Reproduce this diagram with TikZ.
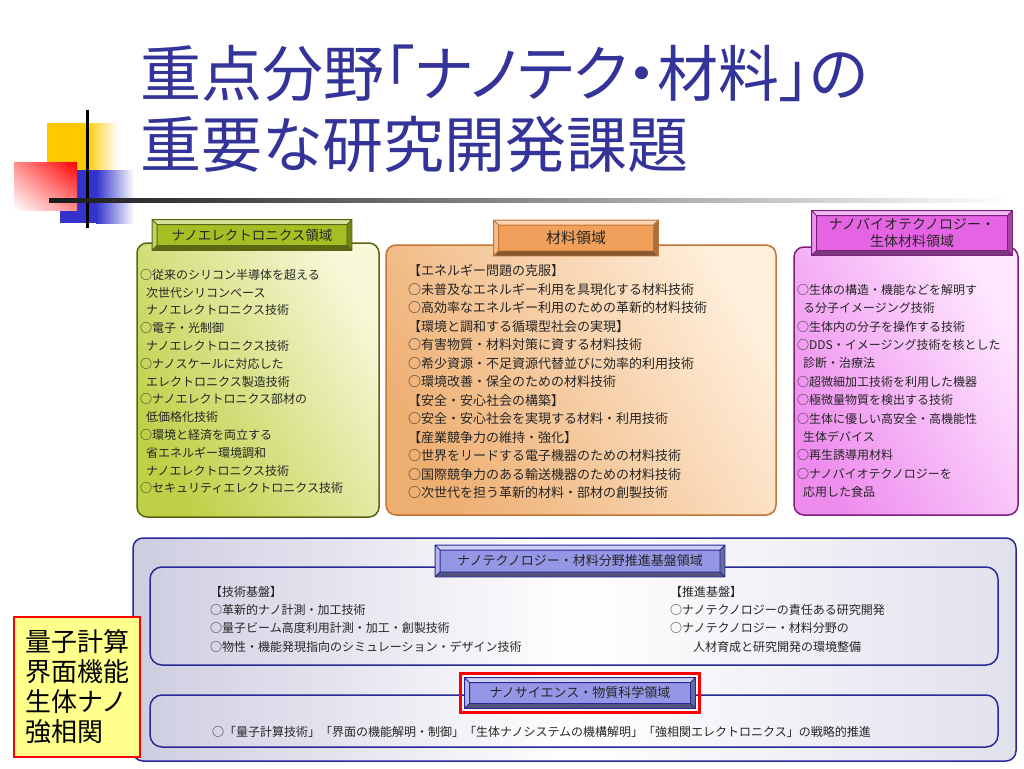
\documentclass[tikz,border=0pt]{standalone}
\usepackage{fontspec}
\setmainfont{Noto Sans CJK JP}
\newfontfamily\titlefont[RawFeature=+palt]{Noto Sans CJK JP}
\usepackage{tikz}
\usetikzlibrary{calc,shadings}

\definecolor{titleblue}{RGB}{51,51,153}
\definecolor{grnline}{RGB}{90,100,20}
\definecolor{grnfill}{RGB}{190,208,70}
\definecolor{grnlight}{RGB}{246,248,215}
\definecolor{grntab}{RGB}{165,190,35}
\definecolor{orgline}{RGB}{195,115,50}
\definecolor{orgfill}{RGB}{238,175,115}
\definecolor{orglight}{RGB}{255,238,218}
\definecolor{orgtab}{RGB}{240,160,90}
\definecolor{pnkline}{RGB}{125,30,125}
\definecolor{pnkfill}{RGB}{238,140,238}
\definecolor{pnklight}{RGB}{255,232,255}
\definecolor{pnktab}{RGB}{228,100,228}
\definecolor{bluline}{RGB}{40,40,150}
\definecolor{blufill}{RGB}{205,205,225}
\definecolor{blutab}{RGB}{150,150,230}
\definecolor{deco-y}{RGB}{255,200,0}
\definecolor{deco-b}{RGB}{51,51,204}
\definecolor{notey}{RGB}{255,255,140}

% bevelled frame round a tab node: #1 node, #2 face colour, #3 line colour
\newcommand\tabbevel[3]{%
  \fill[#2!45!white] (#1.north west) -- (#1.north east) -- ([shift={(-5,5)}]#1.north east) -- ([shift={(5,5)}]#1.north west) -- cycle;
  \fill[#2!70!white] (#1.north west) -- ([shift={(5,5)}]#1.north west) -- ([shift={(5,-5)}]#1.south west) -- (#1.south west) -- cycle;
  \fill[#2!70!black] (#1.north east) -- ([shift={(-5,5)}]#1.north east) -- ([shift={(-5,-5)}]#1.south east) -- (#1.south east) -- cycle;
  \fill[#2!55!black] (#1.south west) -- ([shift={(5,-5)}]#1.south west) -- ([shift={(-5,-5)}]#1.south east) -- (#1.south east) -- cycle;
  \draw[#3, line width=0.8pt] (#1.north west) rectangle (#1.south east)
    ([shift={(5,5)}]#1.north west) rectangle ([shift={(-5,-5)}]#1.south east)
    (#1.north west) -- ++(5,5) (#1.north east) -- ++(-5,5)
    (#1.south west) -- ++(5,-5) (#1.south east) -- ++(-5,-5);
}

\begin{document}
\begin{tikzpicture}[x=1pt,y=-1pt,
  panel/.style={line width=1.5pt, rounded corners=10pt},
  tabbox/.style={draw, line width=0.8pt, inner sep=0pt, align=center,
    font=\fontsize{13}{16}\selectfont, text=black!85},
  items/.style={anchor=north west, inner sep=0pt, align=left,
    font=\fontsize{12}{18.3}\selectfont, text=black!85}]

\useasboundingbox (0,0) rectangle (1024,768);

% Corner decoration
\fill[deco-y] (47,123) rectangle (86,172);
\shade[left color=deco-y, right color=white] (86,123) rectangle (118,172);
\fill[deco-b] (60,170) rectangle (96,223);
\shade[left color=deco-b, right color=white] (96,170) rectangle (134,223);
\shade[upper left=red!45!white, upper right=red, lower left=white, lower right=red!45!white] (14,162) rectangle (77,210);
\draw[line width=3pt] (87,110) -- (87,228);
\shade[left color=black!90, right color=white, middle color=black!45] (49,198) rectangle (1010,202);

% Title
\node[anchor=west, inner sep=0pt, text=titleblue, font=\titlefont\fontsize{61}{61}\selectfont] (title1) at (140,73) {重点分野「ナノテク・材料」の};
\node[anchor=west, inner sep=0pt, text=titleblue, font=\titlefont\fontsize{61}{61}\selectfont] (title2) at (140,144) {重要な研究開発課題};

% Upper panels
\draw[panel, draw=grnline, left color=grnfill, right color=grnlight, shading angle=120] (137,243) rectangle (379,517);
\draw[panel, draw=orgline, left color=orgfill, right color=orglight, shading angle=120] (386,245) rectangle (776,515);
\draw[panel, draw=pnkline, left color=pnkfill, right color=pnklight, shading angle=120] (794,247) rectangle (1018,515);

\node[tabbox, fill=grntab, draw=grnline, minimum width=199pt, minimum height=30pt,
  font=\fontsize{13.5}{16}\selectfont] (electab) at (252,235) {ナノエレクトロニクス領域};
\tabbevel{electab}{grntab}{grnline}
\node[tabbox, fill=orgtab, draw=orgline, minimum width=164pt, minimum height=35pt,
  font=\fontsize{15}{18}\selectfont] (mattab) at (576,238) {材料領域};
\tabbevel{mattab}{orgtab}{orgline}
\node[tabbox, fill=pnktab, draw=pnkline, minimum width=200pt, minimum height=44pt,
  font=\fontsize{14}{17}\selectfont] (biotab) at (912,233) {ナノバイオテクノロジー・\\生体材料領域};
\tabbevel{biotab}{pnktab}{pnkline}

\node[items, font=\fontsize{12}{17.8}\selectfont] (elecitems) at (140,269) {○従来のシリコン半導体を超える\\
\hspace*{6pt}次世代シリコンベース\\
\hspace*{6pt}ナノエレクトロニクス技術\\
○電子・光制御\\
\hspace*{6pt}ナノエレクトロニクス技術\\
○ナノスケールに対応した\\
\hspace*{6pt}エレクトロニクス製造技術\\
○ナノエレクトロニクス部材の\\
\hspace*{6pt}低価格化技術\\
○環境と経済を両立する\\
\hspace*{6pt}省エネルギー環境調和\\
\hspace*{6pt}ナノエレクトロニクス技術\\
○セキュリティエレクトロニクス技術};

\node[items, font=\fontsize{13}{18.5}\selectfont] (matitems) at (408,264.5) {【エネルギー問題の克服】\\
○未普及なエネルギー利用を具現化する材料技術\\
○高効率なエネルギー利用のための革新的材料技術\\
【環境と調和する循環型社会の実現】\\
○有害物質・材料対策に資する材料技術\\
○希少資源・不足資源代替並びに効率的利用技術\\
○環境改善・保全のための材料技術\\
【安全・安心社会の構築】\\
○安全・安心社会を実現する材料・利用技術\\
【産業競争力の維持・強化】\\
○世界をリードする電子機器のための材料技術\\
○国際競争力のある輸送機器のための材料技術\\
○次世代を担う革新的材料・部材の創製技術};

\node[items, font=\fontsize{12}{18.4}\selectfont] (bioitems) at (797,284) {○生体の構造・機能などを解明す\\
\hspace*{6pt}る分子イメージング技術\\
○生体内の分子を操作する技術\\
○DDS・イメージング技術を核とした\\
\hspace*{6pt}診断・治療法\\
○超微細加工技術を利用した機器\\
○極微量物質を検出する技術\\
○生体に優しい高安全・高機能性\\
\hspace*{6pt}生体デバイス\\
○再生誘導用材料\\
○ナノバイオテクノロジーを\\
\hspace*{6pt}応用した食品};

% Lower panel
\draw[panel, draw=bluline, left color=blufill, right color=blufill!60!white, middle color=white] (133,538) rectangle (1016,761);
\draw[panel, draw=bluline, rounded corners=12pt] (150,567) rectangle (998,665);
\draw[panel, draw=bluline, rounded corners=12pt] (150,695) rectangle (998,747);

\node[tabbox, fill=blutab, draw=bluline, minimum width=289pt, minimum height=31pt] (basetab) at (580,561) {ナノテクノロジー・材料分野推進基盤領域};
\tabbevel{basetab}{blutab}{bluline}
\node[tabbox, fill=blutab, draw=bluline, minimum width=230pt, minimum height=30pt] (scitab) at (580,693) {ナノサイエンス・物質科学領域};
\tabbevel{scitab}{blutab}{bluline}
\draw[red, line width=3pt] ([shift={(-4,-4)}]scitab.north west) rectangle ([shift={(4,4)}]scitab.south east);

\node[items] (techitems) at (210,586) {【技術基盤】\\
○革新的ナノ計測・加工技術\\
○量子ビーム高度利用計測・加工・創製技術\\
○物性・機能発現指向のシミュレーション・デザイン技術};
\node[items] (pushitems) at (670,586) {【推進基盤】\\
○ナノテクノロジーの責任ある研究開発\\
○ナノテクノロジー・材料分野の\\
\hspace*{23pt}人材育成と研究開発の環境整備};
\node[items] (sciitems) at (212,726) {○「量子計算技術」「界面の機能解明・制御」「生体ナノシステムの機構解明」「強相関エレクトロニクス」の戦略的推進};

% Note
\node[draw=red, line width=2.5pt, fill=notey, minimum width=126pt, minimum height=140pt,
  inner sep=0pt, align=left, font=\fontsize{26}{30}\selectfont] (qnote) at (77,687) {量子計算\\界面機能\\生体ナノ\\強相関};

\end{tikzpicture}
\end{document}
